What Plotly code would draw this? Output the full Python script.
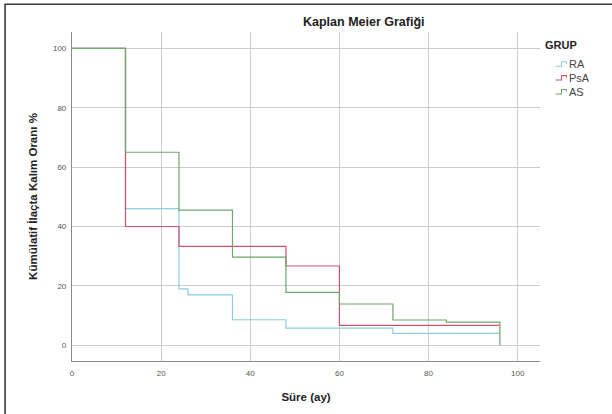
import plotly.graph_objects as go

# Kaplan-Meier step curves (time in months, cumulative retention %)
groups = ["RA", "PsA", "AS"]
ra_time = [0, 12, 24, 26, 36, 48, 72, 96]
ra_surv = [100, 46, 19, 17, 8.6, 5.8, 4.0, 4.0]
psa_time = [0, 12, 24, 48, 60, 96]
psa_surv = [100, 40, 33.3, 26.7, 6.7, 6.7]
as_time = [0, 12, 24, 36, 48, 60, 72, 84, 96, 96]
as_surv = [100, 65, 45.5, 29.7, 17.8, 13.9, 8.5, 7.8, 7.8, 0]

x_ticks = [0, 20, 40, 60, 80, 100]
y_ticks = [0, 20, 40, 60, 80, 100]

colors = {"RA": "#8ccbe0", "PsA": "#d2506f", "AS": "#6ea66e"}
series = {"RA": (ra_time, ra_surv), "PsA": (psa_time, psa_surv), "AS": (as_time, as_surv)}

W, H = 612, 414
ML, MR, MT, MB = 72, 71.5, 32, 50
PW, PH = W - ML - MR, H - MT - MB


def px(x):
    return (x - ML) / PW


def py(y):
    return (H - MB - y) / PH


FONT = "Liberation Sans, Arial, sans-serif"

fig = go.Figure()
for g in groups:
    t, s = series[g]
    fig.add_trace(go.Scatter(
        x=t, y=s, mode="lines", name=g, line_shape="hv",
        line=dict(color=colors[g], width=1.2), showlegend=False,
        hoverinfo="x+y+name",
    ))

shapes = []
annotations = []

# frame around the chart
shapes.append(dict(type="rect", xref="paper", yref="paper",
                   x0=px(5), y0=py(420), x1=px(620), y1=py(4),
                   line=dict(color="#3a3a3a", width=1.6), layer="above"))

# title
annotations.append(dict(text="<b>Kaplan Meier Grafiği</b>", xref="paper", yref="paper",
                        x=px(364), y=py(22), xanchor="center", yanchor="middle",
                        showarrow=False, font=dict(family=FONT, size=12.5, color="#222")))

# legend: heading, small step glyphs and labels
annotations.append(dict(text="<b>GRUP</b>", xref="paper", yref="paper",
                        x=px(562), y=py(45), xanchor="center", yanchor="middle",
                        showarrow=False, font=dict(family=FONT, size=11, color="#222")))
for i, g in enumerate(groups):
    yc = 64.5 + i * 14
    gx0, gx1, gx2 = 556, 562, 567
    path = "M {a},{b} L {c},{b} L {c},{d} L {e},{d} L {e},{f}".format(
        a=px(gx0), b=py(yc + 2), c=px(gx1), d=py(yc - 2.5), e=px(gx2), f=py(yc - 0.5))
    shapes.append(dict(type="path", xref="paper", yref="paper", path=path,
                       line=dict(color=colors[g], width=1.1)))
    annotations.append(dict(text=g, xref="paper", yref="paper",
                            x=px(567.5), y=py(yc), xanchor="left", yanchor="middle",
                            showarrow=False, font=dict(family=FONT, size=11, color="#444")))

fig.update_layout(
    width=W, height=H,
    margin=dict(l=ML, r=MR, t=MT, b=MB, pad=0),
    paper_bgcolor="white", plot_bgcolor="white",
    font=dict(family=FONT, color="#444"),
    shapes=shapes, annotations=annotations,
    showlegend=False,
    xaxis=dict(
        range=[0, 105], tickvals=x_ticks, ticktext=[str(v) for v in x_ticks],
        showgrid=True, gridcolor="#cccccc", gridwidth=1, zeroline=False,
        showline=True, linecolor="#8a8a8a", linewidth=1.2, ticks="",
        tickfont=dict(family=FONT, size=8, color="#555"), ticklabelstandoff=4,
        title=dict(text="<b>Süre (ay)</b>", font=dict(family=FONT, size=11.5, color="#222"),
                   standoff=16),
    ),
    yaxis=dict(
        range=[-5.3, 105.5], tickvals=y_ticks, ticktext=[str(v) for v in y_ticks],
        showgrid=True, gridcolor="#cccccc", gridwidth=1, zeroline=False,
        showline=True, linecolor="#8a8a8a", linewidth=1.2, ticks="",
        tickfont=dict(family=FONT, size=8, color="#555"), ticklabelstandoff=3,
        title=dict(text="<b>Kümülatif İlaçta Kalım Oranı %</b>",
                   font=dict(family=FONT, size=11.5, color="#222"), standoff=12),
    ),
)

fig.write_html("out.html")
